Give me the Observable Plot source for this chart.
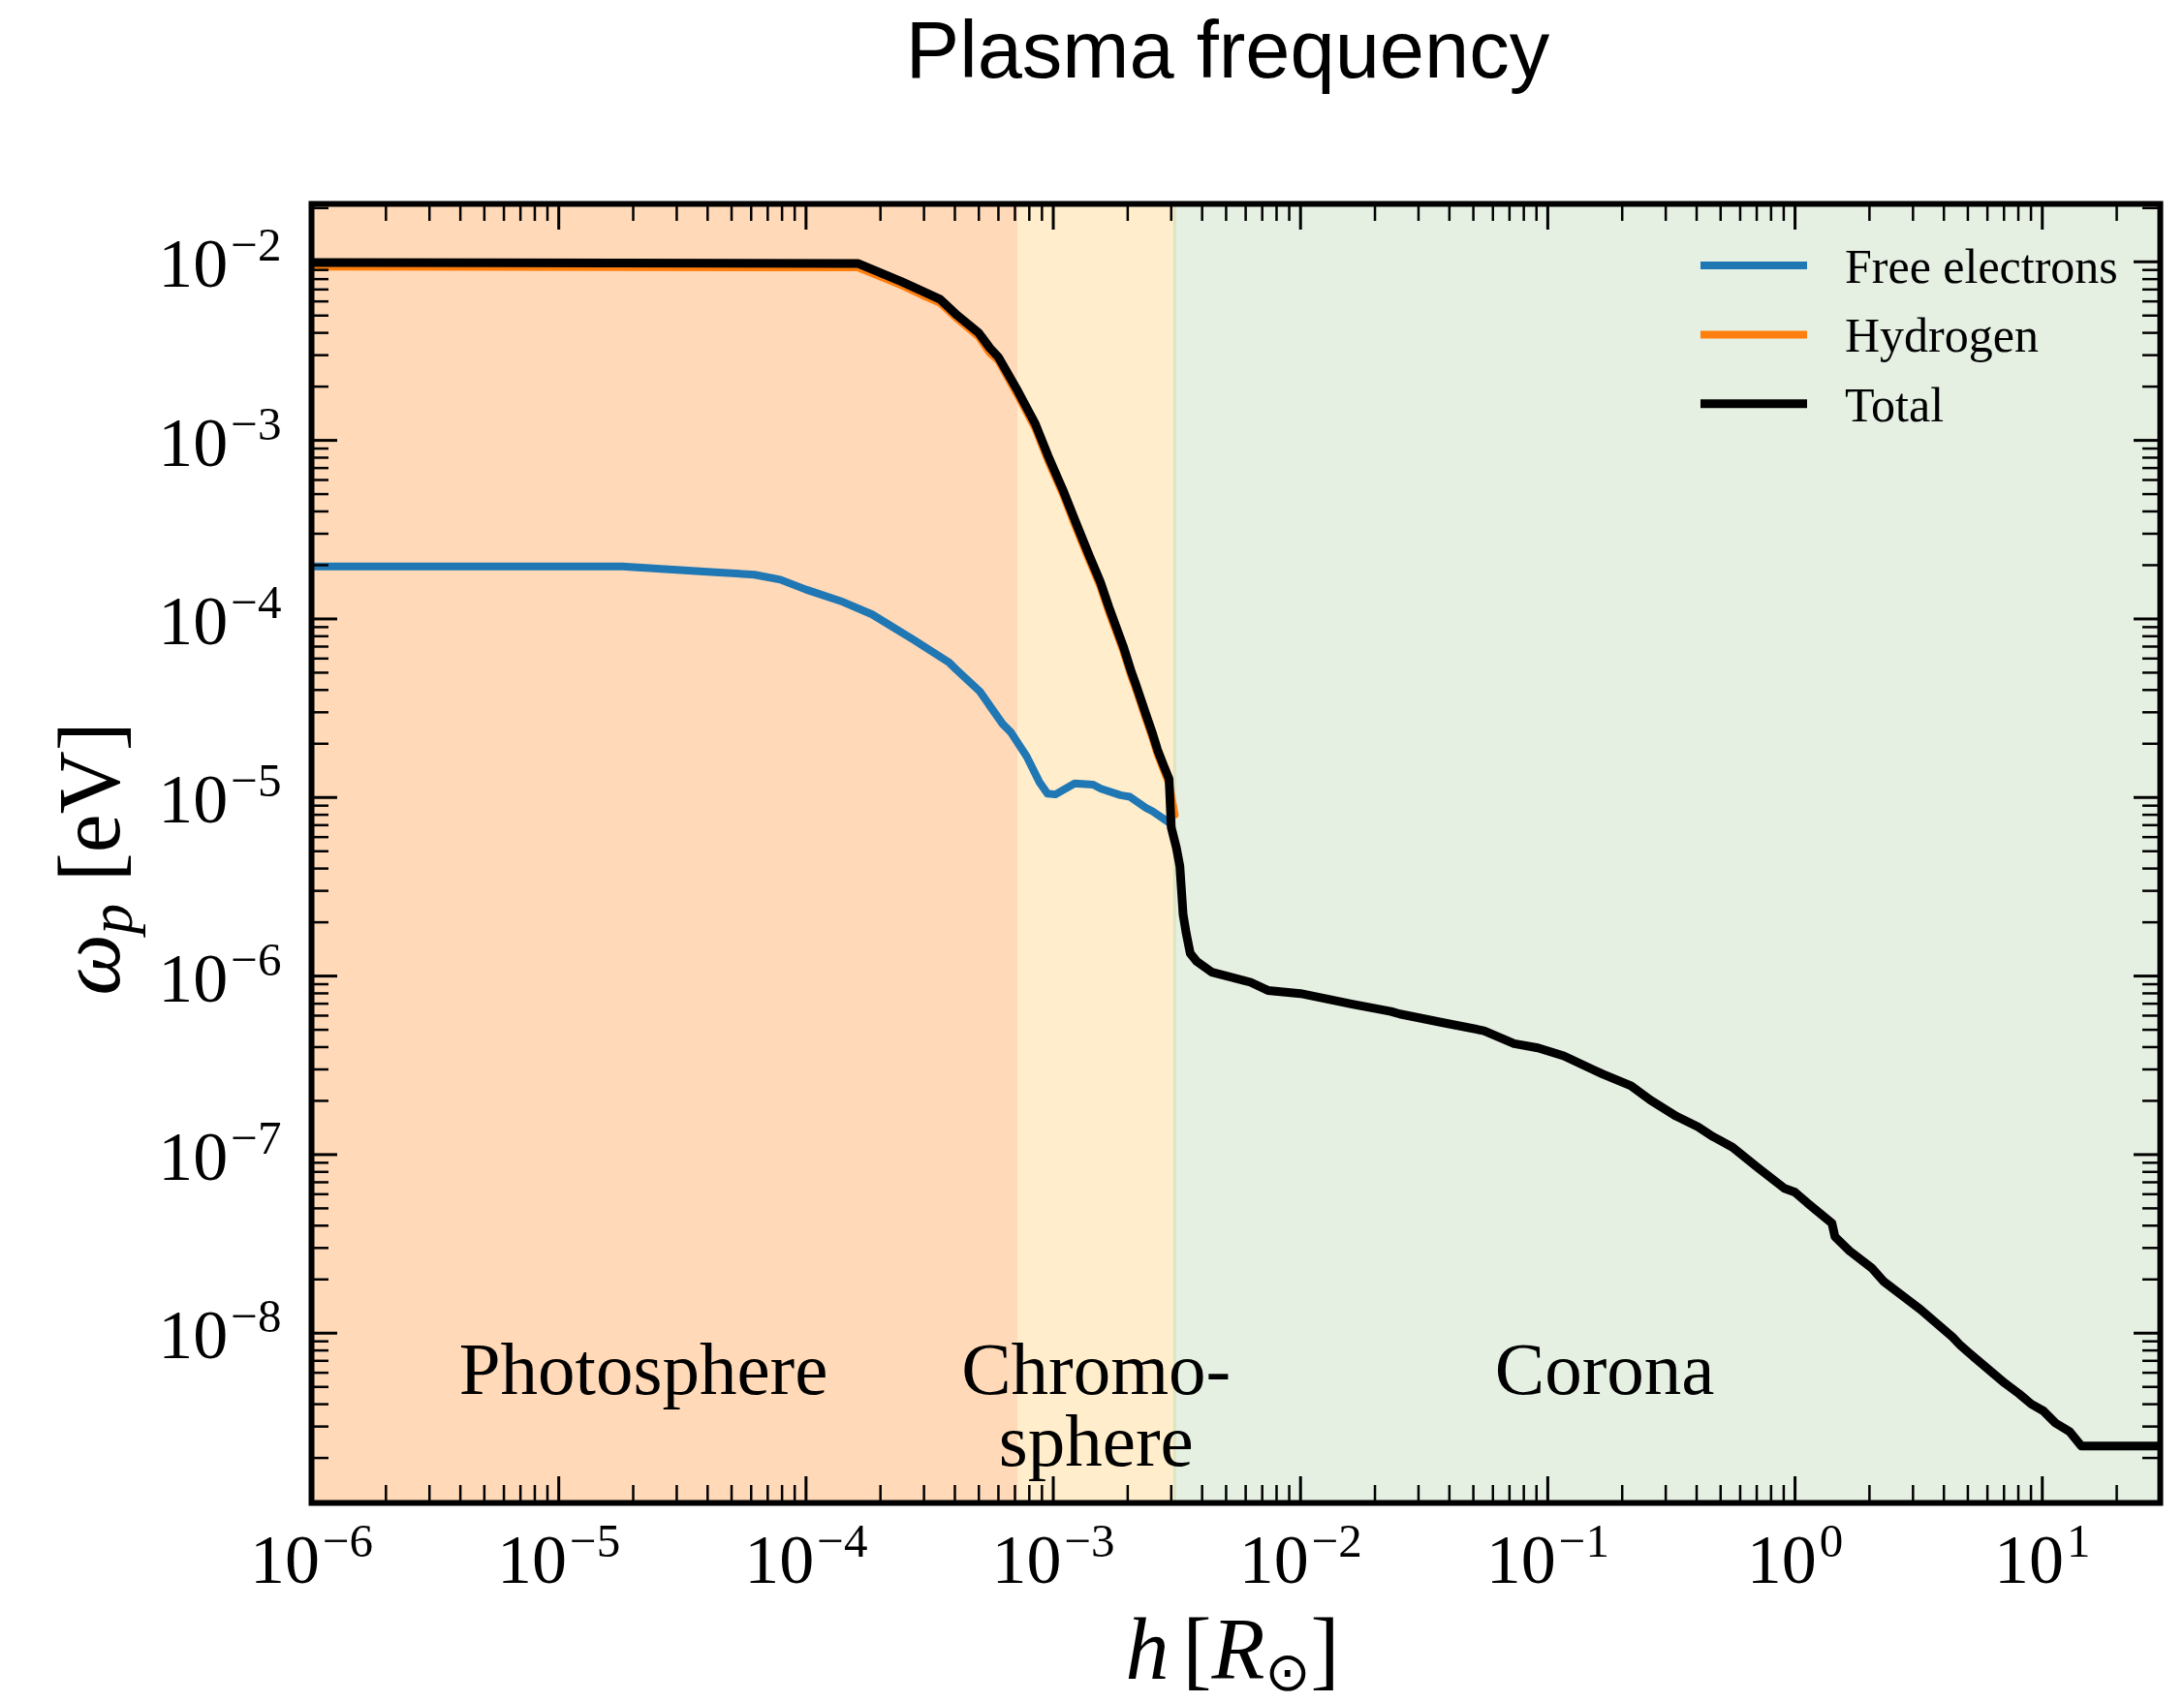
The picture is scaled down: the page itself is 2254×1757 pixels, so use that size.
<!DOCTYPE html>
<html>
<head>
<meta charset="utf-8">
<script src="https://cdn.jsdelivr.net/npm/d3@7"></script>
<script src="https://cdn.jsdelivr.net/npm/@observablehq/plot@0.6"></script>
<style>
  html, body { margin: 0; padding: 0; background: white; }
  #wrap { position: relative; width: 2254px; height: 1757px; }
  #title { width: 2254px; height: 110px; box-sizing: border-box; padding-left: 280px;
           text-align: center; font-family: "Liberation Sans", Arial, sans-serif;
           font-size: 83px; line-height: 104px; color: black; white-space: nowrap; }
</style>
</head>
<body>
<div id="wrap">
  <div id="title">Plasma frequency</div>
  <div id="chart"></div>
</div>
<script>
// ---------- data ----------
const xDomain = [1e-6, 30];
const yDomain = [1.12e-9, 0.0211];

const seriesNames  = ["Free electrons", "Hydrogen", "Total"];
const seriesColors = ["#1f77b4", "#ff7f0e", "#000000"];

const electronH = [1e-6, 1.81e-5, 4.13e-5, 6.18e-5, 7.87e-5, 1.0e-4, 1.38e-4, 1.85e-4, 2.73e-4, 3.79e-4,
  4.03e-4, 5.05e-4, 5.61e-4, 6.24e-4, 6.72e-4, 7.80e-4, 8.79e-4, 9.48e-4, 1.02e-3, 1.22e-3,
  1.45e-3, 1.56e-3, 1.87e-3, 2.04e-3, 2.37e-3, 2.52e-3, 2.93e-3];
const electronW = [1.97e-4, 1.97e-4, 1.83e-4, 1.77e-4, 1.66e-4, 1.46e-4, 1.26e-4, 1.06e-4, 7.62e-5, 5.70e-5,
  5.24e-5, 3.92e-5, 3.18e-5, 2.58e-5, 2.33e-5, 1.70e-5, 1.22e-5, 1.05e-5, 1.04e-5, 1.20e-5,
  1.18e-5, 1.12e-5, 1.03e-5, 1.01e-5, 8.75e-6, 8.37e-6, 7.26e-6];

const hydrogenH = [1e-6, 1.62e-4, 2.43e-4, 2.96e-4, 3.48e-4, 4.09e-4, 5.0e-4, 5.53e-4, 6.0e-4, 7.2e-4,
  8.45e-4, 9.53e-4, 1.10e-3, 1.24e-3, 1.40e-3, 1.55e-3, 1.68e-3, 1.92e-3, 2.07e-3, 2.14e-3,
  2.37e-3, 2.52e-3, 2.64e-3, 2.80e-3, 2.94e-3, 3.10e-3];
const hydrogenW = [0.0094, 0.0093, 7.4e-3, 6.5e-3, 5.9e-3, 4.8e-3, 3.8e-3, 3.1e-3, 2.8e-3, 1.78e-3,
  1.17e-3, 7.7e-4, 4.9e-4, 3.2e-4, 2.12e-4, 1.52e-4, 1.09e-4, 6.6e-5, 4.75e-5, 4.2e-5,
  2.75e-5, 2.15e-5, 1.75e-5, 1.42e-5, 1.2e-5, 8.0e-6];

const totalH = [1e-6, 1.62e-4, 2.43e-4, 2.96e-4, 3.48e-4, 4.09e-4, 5.0e-4, 5.53e-4, 6.0e-4, 7.2e-4,
  8.45e-4, 9.53e-4, 1.10e-3, 1.24e-3, 1.40e-3, 1.55e-3, 1.68e-3, 1.92e-3, 2.07e-3, 2.14e-3,
  2.37e-3, 2.52e-3, 2.64e-3, 2.80e-3, 2.94e-3, 3.0e-3, 3.15e-3, 3.25e-3, 3.35e-3, 3.45e-3,
  3.58e-3, 3.80e-3, 4.38e-3, 6.28e-3, 7.38e-3, 1.0e-2, 1.62e-2, 2.32e-2, 2.52e-2, 3.77e-2,
  5.52e-2, 7.31e-2, 9.12e-2, 0.116, 0.154, 0.167, 0.217, 0.260, 0.331, 0.405,
  0.466, 0.558, 0.710, 0.906, 1.0, 1.12, 1.41, 1.45, 1.66, 2.04,
  2.29, 3.21, 4.33, 4.67, 5.03, 7.06, 8.05, 9.02, 10.1, 11.3,
  12.9, 14.4, 30];
const totalW = [0.0099, 0.0098, 7.76e-3, 6.85e-3, 6.18e-3, 5.01e-3, 3.99e-3, 3.30e-3, 2.92e-3, 1.88e-3,
  1.24e-3, 8.18e-4, 5.18e-4, 3.41e-4, 2.25e-4, 1.61e-4, 1.16e-4, 7.0e-5, 5.04e-5, 4.44e-5,
  2.92e-5, 2.28e-5, 1.85e-5, 1.50e-5, 1.27e-5, 6.8e-6, 5.2e-6, 4.13e-6, 2.21e-6, 1.73e-6,
  1.34e-6, 1.21e-6, 1.05e-6, 9.23e-7, 8.31e-7, 7.98e-7, 6.95e-7, 6.34e-7, 6.13e-7, 5.48e-7,
  4.94e-7, 4.18e-7, 3.96e-7, 3.57e-7, 2.97e-7, 2.82e-7, 2.43e-7, 2.02e-7, 1.64e-7, 1.43e-7,
  1.26e-7, 1.10e-7, 8.41e-8, 6.47e-8, 6.15e-8, 5.37e-8, 4.13e-8, 3.47e-8, 2.89e-8, 2.32e-8,
  1.94e-8, 1.36e-8, 9.53e-9, 8.53e-9, 7.80e-9, 5.24e-9, 4.58e-9, 4.01e-9, 3.67e-9, 3.14e-9,
  2.81e-9, 2.33e-9, 2.33e-9];

const regionNames  = ["Photosphere", "Chromosphere", "Corona"];
const regionStart  = [1e-6, 7.2e-4, 3.1e-3];
const regionEnd    = [7.2e-4, 3.1e-3, 30];
const regionColors = ["#ffd9b8", "#ffedcc", "#e5f0e3"];

const regionLabelText = ["Photosphere", "Chromo-", "sphere", "Corona"];
const regionLabelX    = [2.2e-5, 1.49e-3, 1.49e-3, 0.17];
const regionLabelY    = [4.58e-9, 4.58e-9, 1.82e-9, 4.58e-9];

const xMajorTicks = [1e-6, 1e-5, 1e-4, 1e-3, 1e-2, 1e-1, 1, 10];
const yMajorTicks = [1e-2, 1e-3, 1e-4, 1e-5, 1e-6, 1e-7, 1e-8];

// ---------- layout ----------
const W = 2254, H = 1647;
const mL = 321, mR = 25, mT = 100, mB = 206;
const innerW = W - mL - mR, innerH = H - mT - mB;
const majorLen = 27, minorLen = 18;

const toRows = (hs, ws) => hs.map((h, i) => ({h, w: ws[i]}));
const electrons = toRows(electronH, electronW);
const hydrogen = toRows(hydrogenH, hydrogenW);
const total = toRows(totalH, totalW);
const regions = regionNames.map((n, i) => ({name: n, x1: regionStart[i], x2: regionEnd[i], color: regionColors[i]}));
const regionLabels = regionLabelText.map((t, i) => ({t, x: regionLabelX[i], y: regionLabelY[i]}));

const isPow10 = v => Math.abs(Math.log10(v) - Math.round(Math.log10(v))) < 1e-9;
const xMinorTicks = d3.scaleLog().domain(xDomain).ticks().filter(v => !isPow10(v));
const yMinorTicks = d3.scaleLog().domain(yDomain).ticks().filter(v => !isPow10(v));

const fmt = d => {
  const e = Math.round(Math.log10(d));
  return "10^" + (e < 0 ? "\u2212" + (-e) : String(e));
};

const plot = Plot.plot({
  width: W, height: H,
  marginLeft: mL, marginRight: mR, marginTop: mT, marginBottom: mB,
  x: {type: "log", domain: xDomain},
  y: {type: "log", domain: yDomain},
  style: {fontFamily: "'Liberation Serif', 'Times New Roman', serif", fontSize: "72px", background: "white", overflow: "visible"},
  marks: [
    Plot.rect(regions, {x1: "x1", x2: "x2", fill: "color"}),
    Plot.ruleX([regionStart[2]], {stroke: "#dde6c2", strokeWidth: 3}),
    Plot.line(electrons, {x: "h", y: "w", stroke: seriesColors[0], strokeWidth: 8, clip: true}),
    Plot.line(hydrogen, {x: "h", y: "w", stroke: seriesColors[1], strokeWidth: 8, clip: true}),
    Plot.line(total, {x: "h", y: "w", stroke: seriesColors[2], strokeWidth: 9, clip: true}),
    Plot.text(regionLabels, {x: "x", y: "y", text: "t", fontSize: 77, lineAnchor: "bottom", fill: "black"}),
    // inward ticks on all four sides
    Plot.tickX(xMajorTicks, {x: d => d, insetTop: innerH - majorLen, strokeWidth: 3}),
    Plot.tickX(xMajorTicks, {x: d => d, insetBottom: innerH - majorLen, strokeWidth: 3}),
    Plot.tickX(xMinorTicks, {x: d => d, insetTop: innerH - minorLen, strokeWidth: 2.5}),
    Plot.tickX(xMinorTicks, {x: d => d, insetBottom: innerH - minorLen, strokeWidth: 2.5}),
    Plot.tickY(yMajorTicks, {y: d => d, insetRight: innerW - majorLen, strokeWidth: 3}),
    Plot.tickY(yMajorTicks, {y: d => d, insetLeft: innerW - majorLen, strokeWidth: 3}),
    Plot.tickY(yMinorTicks, {y: d => d, insetRight: innerW - minorLen, strokeWidth: 2.5}),
    Plot.tickY(yMinorTicks, {y: d => d, insetLeft: innerW - minorLen, strokeWidth: 2.5}),
    Plot.frame({stroke: "black", strokeWidth: 6}),
    Plot.axisX(xMajorTicks, {tickSize: 0, tickPadding: 31, tickFormat: fmt, fontSize: 72, label: null}),
    Plot.axisY(yMajorTicks, {tickSize: 0, tickPadding: 31, tickFormat: fmt, fontSize: 72, dy: 3, label: null})
  ]
});

const svg = d3.select(plot);
// superscript exponents on tick labels
svg.selectAll('g[aria-label="x-axis tick label"] text, g[aria-label="y-axis tick label"] text').each(function () {
  const s = this.textContent;
  const parts = s.split("^");
  if (parts.length !== 2) return;
  this.textContent = "";
  const t = d3.select(this);
  t.append("tspan").text(parts[0]);
  t.append("tspan").attr("dy", -27).attr("dx", 3).attr("font-size", 49).text(parts[1]);
});

// axis titles
const xl = svg.append("text").attr("x", mL + innerW / 2 - 3).attr("y", 1623)
  .attr("text-anchor", "middle").attr("font-size", 90).attr("fill", "black");
xl.append("tspan").attr("font-style", "italic").text("h");
xl.append("tspan").attr("dx", 14).text("[");
xl.append("tspan").attr("font-style", "italic").text("R");
xl.append("tspan").attr("font-size", 56).attr("dy", 12).attr("font-family", "'DejaVu Sans', sans-serif").text("\u2299");
xl.append("tspan").attr("dy", -12).text("]");

const yl = svg.append("text").attr("transform", `translate(123, ${mT + innerH / 2 + 6}) rotate(-90)`)
  .attr("text-anchor", "middle").attr("font-size", 90).attr("fill", "black");
yl.append("tspan").attr("font-style", "italic").text("\u03c9");
yl.append("tspan").attr("font-style", "italic").attr("font-size", 63).attr("dy", 13).text("p");
yl.append("tspan").attr("dy", -13).text(" [eV]");

// legend
const lg = svg.append("g").attr("text-anchor", "start");
seriesNames.forEach((name, i) => {
  const y = 164 + i * 71.4;
  lg.append("line").attr("x1", 1755).attr("x2", 1865).attr("y1", y).attr("y2", y)
    .attr("stroke", seriesColors[i]).attr("stroke-width", i === 2 ? 9 : 8);
  lg.append("text").attr("x", 1904).attr("y", y + 17.7).attr("text-anchor", "start")
    .attr("font-size", 50).attr("fill", "black").text(name);
});

document.getElementById("chart").appendChild(plot);
</script>
</body>
</html>
